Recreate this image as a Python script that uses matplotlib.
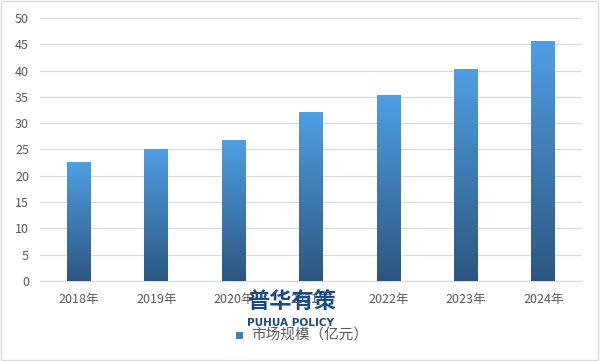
import numpy as np
import matplotlib
matplotlib.use("Agg")
import matplotlib.pyplot as plt
from matplotlib.colors import LinearSegmentedColormap
from matplotlib.patches import Rectangle

plt.rcParams['font.family'] = ['Noto Sans CJK SC', 'DejaVu Sans']

categories = ["2018年", "2019年", "2020年", "2021年", "2022年", "2023年", "2024年"]
values = [22.5, 25.0, 26.8, 32.0, 35.3, 40.2, 45.5]
series_name = "市场规模（亿元）"
y_ticks = [0, 5, 10, 15, 20, 25, 30, 35, 40, 45, 50]

fig = plt.figure(figsize=(6.0, 3.61), dpi=100)
ax = fig.add_axes([0.067, 0.222, 0.903, 0.728])

x = np.arange(len(categories))
bars = ax.bar(x, values, width=0.31, color='none', edgecolor='none', zorder=3)
cmap = LinearSegmentedColormap.from_list('g', ['#2c5680', '#4f9fe3'])
grad = np.linspace(0, 1, 256).reshape(-1, 1)
for b in bars:
    x0, w, h = b.get_x(), b.get_width(), b.get_height()
    ax.imshow(grad, cmap=cmap, origin='lower', aspect='auto',
              extent=(x0, x0 + w, 0, h), zorder=3, interpolation='bilinear')

ax.set_xlim(-0.5, len(categories) - 0.5)
ax.set_ylim(0, 50)
ax.set_yticks(y_ticks)
ax.set_xticks(x)
ax.set_xticklabels(categories)
ax.tick_params(axis='both', length=0, labelsize=9, colors='#595959')
ax.tick_params(axis='x', pad=9)
ax.tick_params(axis='y', pad=8)
ax.grid(axis='y', color='#d9d9d9', linewidth=0.9, zorder=0)
for s in ['top', 'right', 'left']:
    ax.spines[s].set_visible(False)
ax.spines['bottom'].set_color('#d9d9d9')

# legend
fig.patches.append(Rectangle((0.393, 0.06), 0.012, 0.02, transform=fig.transFigure,
                             facecolor='#3f7fbf', edgecolor='none', zorder=5))
fig.text(0.418, 0.072, series_name, fontsize=10.5, color='#595959', va='center', ha='left')

# watermark
fig.text(0.486, 0.165, "普华有策", fontsize=16, fontweight='bold', color='#1a4a85',
         ha='center', va='center', zorder=10)
fig.text(0.485, 0.105, "PUHUA POLICY", fontsize=7.6, fontweight='bold', color='#1a4a85',
         ha='center', va='center', zorder=10, family='DejaVu Sans')

fig.patches.append(Rectangle((0.001, 0.003), 0.996, 0.994, transform=fig.transFigure,
                             facecolor='none', edgecolor='#d9d9d9', linewidth=1))

fig.savefig('out.png', dpi=100, facecolor='white')
